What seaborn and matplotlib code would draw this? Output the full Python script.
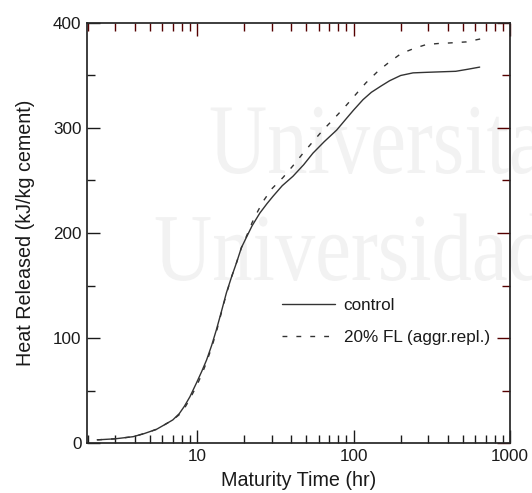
import numpy as np
import pandas as pd
import matplotlib
matplotlib.use("Agg")
import matplotlib.pyplot as plt
import seaborn as sns
from matplotlib.ticker import LogLocator, NullFormatter, MultipleLocator
from matplotlib.textpath import TextPath
from matplotlib.patches import PathPatch
from matplotlib.font_manager import FontProperties
from matplotlib.transforms import Affine2D

# ---- data -------------------------------------------------------------
series_names = ["control", "20% FL (aggr.repl.)"]

time_control = [2.3, 3.0, 3.9, 4.6, 5.5, 6.3, 7.0, 7.7, 8.3, 9.0, 9.9, 10.7,
                11.5, 12.4, 13.3, 14.3, 15.4, 16.6, 17.9, 19.2, 20.7, 22.5,
                25.2, 28.0, 30.6, 35.0, 41.0, 48.0, 55.0, 65.0, 78.0, 90.0,
                100.0, 115.0, 130.0, 150.0, 170.0, 200.0, 240.0, 290.0,
                360.0, 450.0, 540.0, 640.0]
heat_control = [3, 4, 6, 9, 13, 18, 22, 28, 35, 44, 57, 68,
                79, 93, 108, 125, 143, 158, 172, 186, 196, 207,
                219, 228, 235, 245, 254, 265, 276, 287, 298, 309,
                317, 327, 334, 340, 345, 350, 352.5, 353,
                353.5, 354, 356, 358]

time_fl = [2.3, 3.0, 3.9, 4.6, 5.5, 6.3, 7.0, 7.7, 8.3, 9.0, 9.9, 10.7,
           11.5, 12.4, 13.3, 14.3, 15.4, 16.6, 17.9, 19.2, 20.7, 22.5,
           24.5, 26.4, 30.0, 35.5, 41.0, 47.6, 55.0, 63.8, 74.0, 88.0,
           102.0, 120.0, 143.0, 170.0, 202.0, 246.0, 292.0, 350.0,
           412.0, 526.0, 656.0]
heat_fl = [3, 4, 6, 9, 13, 18, 22, 27, 33, 42, 54, 65,
           77, 91, 106, 124, 142, 158, 172, 186, 197, 210,
           221, 230, 242, 253, 264, 276, 287, 298, 308, 320,
           331, 343, 354, 363, 371, 376, 379.5, 380.5,
           381, 382, 385]

x_ticks = [10, 100, 1000]
x_tick_labels = ["10", "100", "1000"]
y_ticks = [0, 100, 200, 300, 400]
watermark_lines = ["Universita", "Universidad"]

# ---- style ------------------------------------------------------------
tick_color = "#1a1a1a"
tick_color_far = "#550000"
text_color = "#1a1a1a"
curve_color = "#333333"
sns.set_theme(style="ticks")
plt.rcParams["font.family"] = ["Liberation Sans", "DejaVu Sans"]

df = pd.concat([
    pd.DataFrame({"time": time_control, "heat": heat_control,
                  "series": series_names[0]}),
    pd.DataFrame({"time": time_fl, "heat": heat_fl,
                  "series": series_names[1]}),
], ignore_index=True)

W, H = 532, 493
fig = plt.figure(figsize=(W / 100, H / 100), dpi=100)
fig.patch.set_facecolor("white")
ax = fig.add_axes([87 / W, 1 - 443 / H, 423 / W, 420 / H])
ax.set_facecolor("none")

sns.lineplot(data=df, x="time", y="heat", style="series",
             style_order=series_names,
             dashes={series_names[0]: "", series_names[1]: (3.5, 6.5)},
             color=curve_color, linewidth=1.0, estimator=None, ax=ax)

ax.set_xscale("log")
ax.set_xlim(1.98, 1000)
ax.set_ylim(0, 400)
ax.set_xticks(x_ticks)
ax.set_xticklabels(x_tick_labels)
ax.xaxis.set_minor_locator(LogLocator(base=10, subs=np.arange(2, 10),
                                      numticks=20))
ax.xaxis.set_minor_formatter(NullFormatter())
ax.set_yticks(y_ticks)
ax.yaxis.set_minor_locator(MultipleLocator(50))

ax.tick_params(which="both", direction="in", top=True, right=True,
               bottom=True, left=True, width=1.0, color=tick_color,
               labelcolor=text_color)
ax.tick_params(which="major", length=9.5, labelsize=12.3, pad=4)
ax.tick_params(which="minor", length=5.5)

ax.set_xlabel("Maturity Time (hr)", fontsize=14.2, color=text_color,
              labelpad=5)
ax.set_ylabel("Heat Released (kJ/kg cement)", fontsize=14.2,
              color=text_color, labelpad=13)

handles, labels = ax.get_legend_handles_labels()
for h in handles:
    h.set_color(curve_color)
    h.set_linewidth(1.0)
ax.legend(handles, labels, loc="center left",
          bbox_to_anchor=(282 / W, 1 - 321.5 / H),
          bbox_transform=fig.transFigure, frameon=False, borderpad=0,
          borderaxespad=0, handlelength=3.1, handletextpad=0.5,
          labelspacing=1.0, fontsize=12.3, labelcolor=text_color)

# top and right tick marks
for axis in (ax.xaxis, ax.yaxis):
    for tk in axis.get_major_ticks() + axis.get_minor_ticks():
        tk.tick2line.set_color(tick_color_far)
        tk.tick2line.set_markeredgecolor(tick_color_far)

# faint background lettering, drawn beneath the axes
wm_font = FontProperties(family="Liberation Serif")
for text, x0, y0, sy in [(watermark_lines[0], 209, H - 173, 1.0),
                         (watermark_lines[1], 154, H - 280, 0.96)]:
    tp = TextPath((0, 0), text, size=100, prop=wm_font)
    path = Affine2D().scale(0.806, sy).translate(x0, y0).transform_path(tp)
    fig.add_artist(PathPatch(path, facecolor="#f2f2f2", edgecolor="none",
                             transform=None, zorder=-1))

fig.savefig("out.png", dpi=100)
